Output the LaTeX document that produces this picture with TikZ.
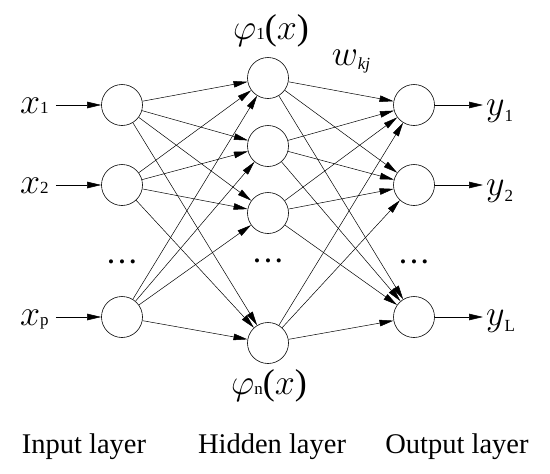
\documentclass[tikz,border=0pt]{standalone}
\usepackage{fix-cm}
\usepackage{fontspec}
\setmainfont{Liberation Serif}
\usetikzlibrary{arrows.meta}

\newcommand{\bigfont}{\fontsize{36}{40}\selectfont}
\newcommand{\subfont}{\fontsize{17}{17}\selectfont}
\newcommand{\threedots}{\textbullet\hspace{5pt}\textbullet\hspace{5pt}\textbullet}

\begin{document}
\begin{tikzpicture}[x=1pt, y=-1pt, >={Triangle[length=14pt,width=6.5pt]},
    neuron/.style={draw, circle, minimum size=41pt, inner sep=0pt, line width=0.6pt},
    conn/.style={->, line width=0.5pt},
    varlbl/.style={font=\bigfont, inner sep=3pt},
    layerlbl/.style={font=\fontsize{28.5}{32}\selectfont, anchor=base},
    dotlbl/.style={font=\fontsize{17}{17}\selectfont, inner sep=0pt}]
    \useasboundingbox (0,0) rectangle (550,474);

    % neurons
    \node[neuron] (i1) at (122,105) {};
    \node[neuron] (i2) at (122,185) {};
    \node[neuron] (ip) at (122,317) {};
    \node[neuron] (h1) at (268,78) {};
    \node[neuron] (h2) at (268,146) {};
    \node[neuron] (h3) at (268,213) {};
    \node[neuron] (hn) at (268,343) {};
    \node[neuron] (o1) at (414,105) {};
    \node[neuron] (o2) at (414,185) {};
    \node[neuron] (oL) at (414,317) {};

    % dots
    \node[dotlbl] (di) at (122,264) {\threedots};
    \node[dotlbl] (dh) at (268,263) {\threedots};
    \node[dotlbl] (do) at (414,264) {\threedots};

    % inputs and outputs
    \node[varlbl, anchor=base west] (x1) at (17,113) {$x${\subfont 1}};
    \node[varlbl, anchor=base west] (x2) at (17,193) {$x${\subfont 2}};
    \node[varlbl, anchor=base west] (xp) at (17,325) {$x${\subfont p}};
    \node[varlbl, anchor=base west] (y1) at (483,115) {$y$\raisebox{-6pt}{\subfont 1}};
    \node[varlbl, anchor=base west] (y2) at (483,195) {$y$\raisebox{-6pt}{\subfont 2}};
    \node[varlbl, anchor=base west] (yL) at (483,325) {$y$\raisebox{-6pt}{\subfont L}};

    \foreach \a in {1,2,p} \draw[conn, shorten <=4pt] (x\a.east |- i\a) -- (i\a);
    \foreach \b in {1,2,L} \draw[conn] (o\b) -- (y\b.west |- o\b);

    % weights
    \foreach \a in {i1,i2,ip}
        \foreach \b in {h1,h2,h3,hn}
            \draw[conn] (\a) -- (\b);
    \foreach \a in {h1,h2,h3,hn}
        \foreach \b in {o1,o2,oL}
            \draw[conn] (\a) -- (\b);

    % labels
    \node[font=\bigfont] (phi1) at (271,31) {$\varphi${\subfont 1}($x$)};
    \node[font=\bigfont] (phin) at (269,386) {$\varphi${\subfont n}($x$)};
    \node[font=\bigfont] (wkj) at (351,62) {$w$\raisebox{-4pt}{\subfont\itshape kj}};

    \node[layerlbl] (inl) at (84,453) {Input layer};
    \node[layerlbl] (hidl) at (272,453) {Hidden layer};
    \node[layerlbl] (outl) at (457,453) {Output layer};
\end{tikzpicture}
\end{document}
